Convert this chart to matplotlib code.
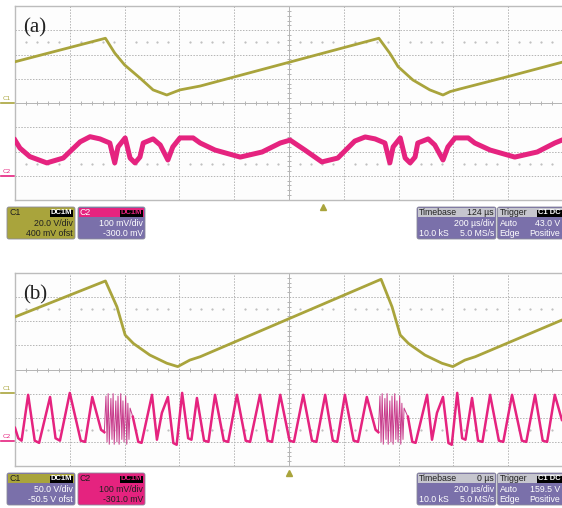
import numpy as np
import matplotlib.pyplot as plt
from matplotlib.patches import FancyBboxPatch, Rectangle

# ---- trace data (x in divisions, 200 us/div; y in divisions) ----
a_c1_x = [0.00, 1.65, 1.82, 2.00, 2.28, 2.52, 2.77, 2.86, 3.01, 3.38,
          6.64, 6.84, 6.99, 7.26, 7.57, 7.81, 7.94, 8.12, 8.98, 9.98]
a_c1_y = [1.70, 2.67, 2.06, 1.57, 1.03, 0.54, 0.33, 0.41, 0.54, 0.70,
          2.67, 2.05, 1.50, 0.95, 0.54, 0.33, 0.47, 0.58, 1.08, 1.68]

a_c2_x = [0.00, 0.09, 0.27, 0.58, 0.88, 1.19, 1.37, 1.55, 1.73, 1.82, 1.88,
          2.01, 2.10, 2.19, 2.28, 2.34, 2.52, 2.65, 2.79, 2.88, 3.01, 3.25,
          3.38, 3.65, 4.11, 4.51, 4.84, 5.02, 5.29, 5.60, 5.89, 6.20, 6.39,
          6.57, 6.75, 6.84, 6.90, 7.03, 7.12, 7.21, 7.30, 7.35, 7.54, 7.66,
          7.81, 7.90, 8.03, 8.27, 8.39, 8.67, 9.12, 9.53, 9.85, 9.98]
a_c2_y = [-1.53, -1.86, -2.21, -2.47, -2.27, -1.60, -1.39, -1.48, -1.65, -2.47, -1.81,
          -1.44, -2.27, -2.47, -2.23, -1.65, -1.48, -1.73, -2.35, -1.81, -1.44, -1.44,
          -1.65, -1.94, -2.23, -2.02, -1.65, -1.53, -1.94, -2.43, -2.27, -1.57, -1.40,
          -1.48, -1.65, -2.47, -1.81, -1.44, -2.27, -2.47, -2.23, -1.65, -1.48, -1.73,
          -2.35, -1.81, -1.44, -1.44, -1.65, -1.94, -2.23, -2.02, -1.65, -1.53]

b_c1_x = [0.00, 1.65, 1.86, 2.01, 2.16, 2.46, 2.77, 2.97, 3.19, 3.38,
          6.68, 6.88, 7.03, 7.18, 7.48, 7.79, 7.99, 8.21, 8.40, 9.98]
b_c1_y = [2.18, 3.67, 2.60, 1.43, 1.08, 0.60, 0.26, 0.12, 0.39, 0.53,
          3.74, 2.60, 1.43, 1.08, 0.60, 0.26, 0.12, 0.39, 0.53, 2.05]

# C2 in (b): triangular-ish oscillation with two dense bursts
b_c2_x = [0.00, 0.06, 0.12, 0.24, 0.36, 0.44, 0.64, 0.74, 0.82, 1.00,
          1.20, 1.28, 1.41, 1.57, 1.63,
          1.66, 1.68, 1.70, 1.72, 1.75, 1.77, 1.79, 1.81, 1.84, 1.86, 1.88,
          1.90, 1.93, 1.95, 1.97, 1.99, 2.02, 2.04, 2.06, 2.08, 2.10,
          2.15, 2.25, 2.31, 2.50, 2.59, 2.68, 2.79, 2.89, 2.95, 3.05,
          3.16, 3.22, 3.32, 3.45, 3.53, 3.65, 3.81, 3.89, 4.05, 4.21,
          4.29, 4.47, 4.61, 4.69, 4.84, 5.01, 5.09, 5.26, 5.42, 5.50,
          5.66, 5.80, 5.88, 6.02, 6.18, 6.26, 6.42, 6.58, 6.63,
          6.66, 6.68, 6.70, 6.72, 6.75, 6.77, 6.79, 6.81, 6.84, 6.86, 6.88,
          6.90, 6.93, 6.95, 6.97, 6.99, 7.02, 7.04, 7.06, 7.08, 7.10,
          7.17, 7.25, 7.31, 7.52, 7.61, 7.70, 7.81, 7.91, 7.97, 8.07,
          8.16, 8.22, 8.34, 8.45, 8.53, 8.67, 8.83, 8.91, 9.07, 9.25,
          9.33, 9.49, 9.63, 9.71, 9.85, 9.98]
b_c2_y = [-2.42, -2.85, -2.95, -1.05, -2.95, -3.04, -1.14, -2.85, -2.95, -0.97,
          -2.95, -3.00, -1.14, -2.50, -2.60,
          -1.10, -3.00, -1.00, -3.10, -1.20, -2.90, -1.00, -3.10, -1.30, -3.00, -1.10,
          -3.10, -1.00, -2.90, -1.30, -3.00, -1.10, -3.10, -1.40, -2.90, -1.60,
          -1.96, -3.00, -3.04, -1.05, -2.91, -1.80, -1.14, -3.05, -3.12, -0.97,
          -2.85, -2.91, -1.18, -2.95, -3.00, -1.05, -2.95, -3.00, -1.05, -2.95,
          -3.00, -1.05, -2.95, -3.00, -1.05, -2.95, -3.00, -1.05, -2.95, -3.00,
          -1.05, -2.95, -3.00, -1.05, -2.95, -3.00, -1.14, -2.50, -2.60,
          -1.10, -3.00, -1.00, -3.10, -1.20, -2.90, -1.00, -3.10, -1.30, -3.00, -1.10,
          -3.10, -1.00, -2.90, -1.30, -3.00, -1.10, -3.10, -1.40, -2.90, -1.60,
          -1.96, -3.00, -3.04, -1.05, -2.91, -1.80, -1.14, -3.05, -3.12, -0.97,
          -2.85, -2.91, -1.18, -2.95, -3.00, -1.05, -2.95, -3.00, -1.05, -2.95,
          -3.00, -1.05, -2.95, -3.00, -1.05, -2.09]

# time windows of the dense bursts (divisions)
b_bursts = [(1.65, 2.11), (6.65, 7.11)]

trig_pos = [5.62, 5.00]

OLIVE = "#a9a43c"
PINK = "#e5237f"
PURPLE = "#7a70aa"
HEADGRAY = "#c6c6ce"
GRIDC = "#b4b4b4"

TXT = ["Liberation Sans Narrow", "Liberation Sans", "DejaVu Sans"]


def scope_grid(ax):
    ax.set_xlim(0, 10)
    ax.set_ylim(-4, 4)
    ax.set_xticks([])
    ax.set_yticks([])
    ax.set_facecolor("#fdfdfd")
    for s in ax.spines.values():
        s.set_color("#bcbcbc")
        s.set_linewidth(1.0)
    for i in range(1, 10):
        ls = "-" if i == 5 else (0, (1.5, 1.5))
        ax.axvline(i, color=GRIDC, lw=0.7, ls=ls, zorder=1)
    for j in range(-3, 4):
        ls = "-" if j == 0 else (0, (1.5, 1.5))
        ax.axhline(j, color=GRIDC, lw=0.7, ls=ls, zorder=1)
    sub = np.arange(0.2, 10, 0.2)
    sub = sub[np.abs(sub - np.round(sub)) > 0.01]
    ax.plot(sub, np.zeros_like(sub), ls="none", marker="|", ms=3.5,
            mew=0.7, color=GRIDC, zorder=1)
    subv = np.arange(-3.8, 4, 0.2)
    subv = subv[np.abs(subv - np.round(subv)) > 0.01]
    ax.plot(np.full_like(subv, 5.0), subv, ls="none", marker="_", ms=3.5,
            mew=0.7, color=GRIDC, zorder=1)
    for yy in (2.5, -2.5):
        ax.plot(sub, np.full_like(sub, yy), ls="none", marker="s", ms=0.6,
                color="#c0c0c0", zorder=1)


fig = plt.figure(figsize=(5.62, 5.08), dpi=100)
fig.patch.set_facecolor("white")

ov = fig.add_axes([0, 0, 1, 1])
ov.set_xlim(0, 562)
ov.set_ylim(508, 0)
ov.axis("off")

ax_a = fig.add_axes([15 / 562, (508 - 200) / 508, 548 / 562, 194 / 508])
ax_b = fig.add_axes([15 / 562, (508 - 466) / 508, 548 / 562, 193 / 508])

for ax in (ax_a, ax_b):
    scope_grid(ax)

ax_a.plot(a_c1_x, a_c1_y, color=OLIVE, lw=2.0, zorder=3)
ax_a.plot(a_c2_x, a_c2_y, color=PINK, lw=3.6, zorder=3, solid_joinstyle="round")
ax_b.plot(b_c1_x, b_c1_y, color=OLIVE, lw=2.0, zorder=3)

# thin trace everywhere, thicker (noisy-looking) trace outside the bursts
bx = np.array(b_c2_x)
by = np.array(b_c2_y)
in_burst = np.zeros(bx.size, dtype=bool)
for lo, hi in b_bursts:
    in_burst |= (bx > lo) & (bx < hi)
ax_b.plot(bx, by, color="#c83c8c", lw=0.7, zorder=3)
ax_b.plot(bx, np.where(in_burst, np.nan, by), color=PINK, lw=1.8, zorder=3)

for ax, tp, lab in ((ax_a, trig_pos[0], "(a)"), (ax_b, trig_pos[1], "(b)")):
    ax.plot(tp, -4.28, marker="^", ms=5, color=OLIVE, clip_on=False, zorder=5)
    ax.text(0.15, 3.1, lab, fontsize=15, family="Liberation Serif",
            color="#222222", va="center", ha="left")

# channel ground markers at the left edge
for y_c1, y_c2 in ((103, 176), (393, 441)):
    ov.plot([1, 14], [y_c1, y_c1], color=OLIVE, lw=1.2)
    ov.text(3, y_c1 - 2, "C1", fontsize=4.5, color=OLIVE, va="bottom")
    ov.plot([1, 14], [y_c2, y_c2], color=PINK, lw=1.2)
    ov.text(3, y_c2 - 2, "C2", fontsize=4.5, color=PINK, va="bottom")


def box(x0, x1, y0, y1, head, body, hh=9.5):
    ov.add_patch(FancyBboxPatch((x0, y0), x1 - x0, y1 - y0,
                                boxstyle="round,pad=0,rounding_size=2",
                                fc=body, ec="#8a8a9a", lw=0.6))
    ov.add_patch(Rectangle((x0 + 0.6, y0 + 0.6), x1 - x0 - 1.2, hh,
                           fc=head, ec="none"))


def tag(x0, x1, y, text, fc="black", tc="white"):
    ov.add_patch(Rectangle((x0, y - 3.5), x1 - x0, 7, fc=fc, ec="none"))
    ov.text((x0 + x1) / 2, y, text, fontsize=5.5, family=TXT, color=tc,
            ha="center", va="center", fontweight="bold")


def t(x, y, s, ha="left", c="white"):
    ov.text(x, y, s, fontsize=6.3, family=TXT, color=c, ha=ha, va="center")


rows = [(207, 239), (473, 505)]

# ---- panel (a) info boxes ----
y0, y1 = rows[0]
box(7, 75, y0, y1, OLIVE, OLIVE)
t(9, y0 + 5.5, "C1", c="#202020")
tag(50, 73, y0 + 6, "DC1M")
t(73, y0 + 17, "20.0 V/div", ha="right", c="#202020")
t(73, y0 + 26.5, "400 mV ofst", ha="right", c="#202020")

box(78, 145, y0, y1, PINK, PURPLE)
t(80, y0 + 5.5, "C2")
tag(120, 143, y0 + 6, "DC1M", tc=PINK)
t(143, y0 + 17, "100 mV/div", ha="right")
t(143, y0 + 26.5, "-300.0 mV", ha="right")

box(417, 496, y0, y1, HEADGRAY, PURPLE)
t(419, y0 + 5.5, "Timebase", c="#202020")
t(494, y0 + 5.5, "124 \u00b5s", ha="right", c="#202020")
t(494, y0 + 17, "200 \u00b5s/div", ha="right")
t(419, y0 + 26.5, "10.0 kS")
t(494, y0 + 26.5, "5.0 MS/s", ha="right")

box(497.5, 570, y0, y1, HEADGRAY, PURPLE)
t(499.5, y0 + 5.5, "Trigger", c="#202020")
tag(537, 562, y0 + 6, "C1 DC", tc="white")
t(499.5, y0 + 17, "Auto")
t(560, y0 + 17, "43.0 V", ha="right")
t(499.5, y0 + 26.5, "Edge")
t(560, y0 + 26.5, "Positive", ha="right")

# ---- panel (b) info boxes ----
y0, y1 = rows[1]
box(7, 75, y0, y1, OLIVE, PURPLE)
t(9, y0 + 5.5, "C1", c="#202020")
tag(50, 73, y0 + 6, "DC1M")
t(73, y0 + 17, "50.0 V/div", ha="right")
t(73, y0 + 26.5, "-50.5 V ofst", ha="right")

box(78, 145, y0, y1, PINK, PINK)
t(80, y0 + 5.5, "C2", c="#202020")
tag(120, 143, y0 + 6, "DC1M", tc=PINK)
t(143, y0 + 17, "100 mV/div", ha="right", c="#202020")
t(143, y0 + 26.5, "-301.0 mV", ha="right", c="#202020")

box(417, 496, y0, y1, HEADGRAY, PURPLE)
t(419, y0 + 5.5, "Timebase", c="#202020")
t(494, y0 + 5.5, "0 \u00b5s", ha="right", c="#202020")
t(494, y0 + 17, "200 \u00b5s/div", ha="right")
t(419, y0 + 26.5, "10.0 kS")
t(494, y0 + 26.5, "5.0 MS/s", ha="right")

box(497.5, 570, y0, y1, HEADGRAY, PURPLE)
t(499.5, y0 + 5.5, "Trigger", c="#202020")
tag(537, 562, y0 + 6, "C1 DC", tc="white")
t(499.5, y0 + 17, "Auto")
t(560, y0 + 17, "159.5 V", ha="right")
t(499.5, y0 + 26.5, "Edge")
t(560, y0 + 26.5, "Positive", ha="right")

fig.savefig("out.png", dpi=100)
